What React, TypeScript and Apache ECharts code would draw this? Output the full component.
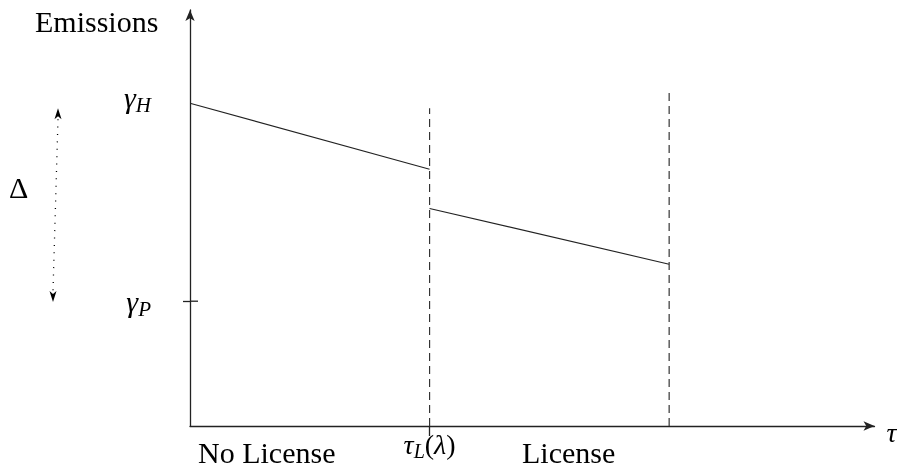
import React, { useEffect, useRef } from "react";
import * as echarts from "echarts";

// Axis ranges (in chart units)
const X_RANGE = [0, 10];
const Y_RANGE = [0, 10];

// Key levels
const GAMMA_H = 7.76;
const GAMMA_P = 3.0;
const TAU_L = 3.5;
const TAU_H = 7.0;

// Emission schedule segments
const segNoLicense: [number, number][] = [
  [0, GAMMA_H],
  [TAU_L, 6.17],
];
const segLicense: [number, number][] = [
  [TAU_L, 5.23],
  [TAU_H, 3.89],
];
// Dashed vertical lines
const dashTauL: [number, number][] = [
  [TAU_L, 0],
  [TAU_L, 7.64],
];
const dashTauH: [number, number][] = [
  [TAU_H, 0],
  [TAU_H, 8.12],
];
// Delta arrow range (top, bottom)
const deltaRange = [7.64, 2.98];

const xTickValues = [TAU_L];
const yTickValues = [GAMMA_P];
const regionLabels = ["No License", "License"];

const SERIF = "Liberation Serif";

export default function App() {
  const ref = useRef<HTMLDivElement>(null);

  useEffect(() => {
    if (!ref.current) return;
    const chart = echarts.init(ref.current, undefined, { renderer: "svg" });
    const axisColor = "#222";
    const mathRich = {
      g: { fontFamily: SERIF, fontStyle: "italic", fontSize: 30, color: "#000" },
      s: {
        fontFamily: SERIF,
        fontStyle: "italic",
        fontSize: 21,
        color: "#000",
        padding: [15, 0, 0, 0],
      },
      p: { fontFamily: SERIF, fontSize: 28, color: "#000" },
      t: { fontFamily: SERIF, fontStyle: "italic", fontSize: 28, color: "#000" },
      ts: {
        fontFamily: SERIF,
        fontStyle: "italic",
        fontSize: 20,
        color: "#000",
        padding: [14, 0, 0, 0],
      },
    };
    const plain = (size: number, italic = false) => ({
      text: "",
      fontFamily: SERIF,
      fontSize: size,
      fontStyle: italic ? "italic" : "normal",
      fill: "#000",
    });

    const option: any = {
      animation: false,
      grid: { left: 190, right: 22.5, top: 10, bottom: 48, containLabel: false },
      xAxis: {
        type: "value",
        min: X_RANGE[0],
        max: X_RANGE[1],
        splitLine: { show: false },
        axisLine: {
          show: true,
          symbol: ["none", "arrow"],
          symbolSize: [7, 11],
          lineStyle: { color: axisColor, width: 1.3 },
        },
        axisTick: {
          show: true,
          customValues: xTickValues,
          length: 10,
          lineStyle: { color: axisColor, width: 1.3 },
        },
        axisLabel: {
          show: true,
          customValues: xTickValues,
          verticalAlign: "middle",
          margin: 18,
          formatter: () => "{t|τ}{ts|L}{p|(}{t|λ}{p|)}",
          rich: mathRich,
        },
      },
      yAxis: [
        {
          type: "value",
          min: Y_RANGE[0],
          max: Y_RANGE[1],
          splitLine: { show: false },
          axisLine: {
            show: true,
            symbol: ["none", "arrow"],
            symbolSize: [7, 11],
            lineStyle: { color: axisColor, width: 1.3 },
          },
          axisTick: {
            show: true,
            customValues: yTickValues,
            length: 7,
            lineStyle: { color: axisColor, width: 1.3 },
          },
          axisLabel: {
            show: true,
            customValues: [GAMMA_P, GAMMA_H],
            margin: 39,
            formatter: (v: number) =>
              v === GAMMA_H ? "{g|γ}{s|H}\n " : "{g|γ}{s|P}",
            rich: mathRich,
          },
        },
      ],
      series: [
        {
          type: "line",
          data: segNoLicense,
          symbol: "none",
          lineStyle: { color: "#222", width: 1.1 },
        },
        {
          type: "line",
          data: segLicense,
          symbol: "none",
          lineStyle: { color: "#222", width: 1.1 },
        },
        {
          type: "line",
          data: dashTauL,
          symbol: "none",
          lineStyle: { color: "#333", width: 1.2, type: [8, 5] },
        },
        {
          type: "line",
          data: dashTauH,
          symbol: "none",
          lineStyle: { color: "#333", width: 1.2, type: [8, 5] },
        },
      ],
    };
    chart.setOption(option);

    // Annotations positioned from the axis scales
    const pTop = chart.convertToPixel({ gridIndex: 0 }, [0, deltaRange[0]]) as number[];
    const pBot = chart.convertToPixel({ gridIndex: 0 }, [0, deltaRange[1]]) as number[];
    const pGP = chart.convertToPixel({ gridIndex: 0 }, [0, GAMMA_P]) as number[];
    const pEnd = chart.convertToPixel({ gridIndex: 0 }, [X_RANGE[1], 0]) as number[];
    const tx = pTop[0] - 132;
    const bx = pBot[0] - 137;
    const ty = pTop[1];
    const by = pBot[1];
    const head = 11;
    const hw = 3.5;

    chart.setOption({
      graphic: [
        {
          type: "text",
          left: 35,
          top: 6,
          style: { ...plain(30), text: "Emissions" },
        },
        {
          type: "text",
          left: 9,
          top: 172,
          style: { ...plain(30), text: "Δ" },
        },
        {
          type: "text",
          left: 198,
          top: 437,
          style: { ...plain(30), text: regionLabels[0] },
        },
        {
          type: "text",
          left: 522,
          top: 437,
          style: { ...plain(30), text: regionLabels[1] },
        },
        {
          type: "text",
          x: pEnd[0] + 12,
          y: pEnd[1] - 8,
          style: { ...plain(28, true), text: "τ" },
        },
        {
          type: "line",
          shape: { x1: pGP[0], y1: pGP[1], x2: pGP[0] + 8, y2: pGP[1] },
          style: { stroke: axisColor, lineWidth: 1.3 },
        },
        {
          type: "line",
          shape: { x1: tx, y1: ty + head, x2: bx, y2: by - head },
          style: { stroke: "#000", lineWidth: 1.3, lineDash: [1, 6.4] },
        },
        {
          type: "polygon",
          shape: {
            points: [
              [tx, ty],
              [tx - hw, ty + head],
              [tx, ty + head - 3],
              [tx + hw, ty + head],
            ],
          },
          style: { fill: "#000" },
        },
        {
          type: "polygon",
          shape: {
            points: [
              [bx, by],
              [bx - hw, by - head],
              [bx, by - head + 3],
              [bx + hw, by - head],
            ],
          },
          style: { fill: "#000" },
        },
      ],
    });
    return () => chart.dispose();
  }, []);

  return (
    <div
      ref={ref}
      style={{ position: "fixed", left: 0, top: 0, width: 897, height: 474 }}
    />
  );
}
